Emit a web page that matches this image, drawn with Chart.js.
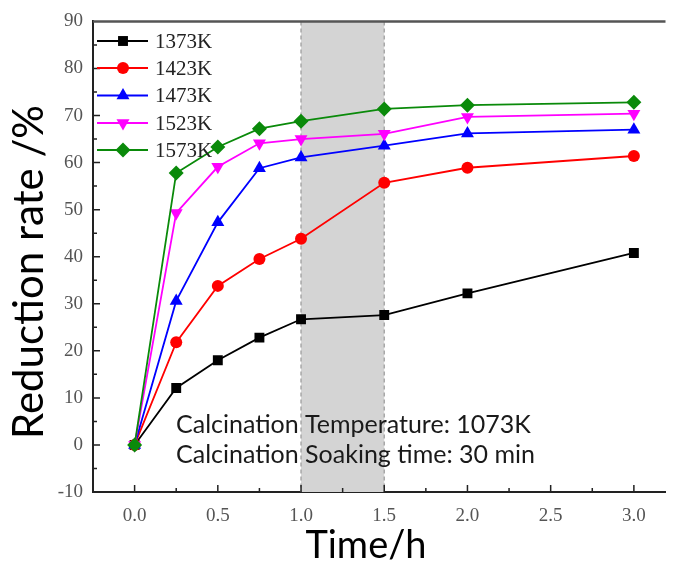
<!DOCTYPE html>
<html>
<head>
<meta charset="utf-8">
<script src="https://cdn.jsdelivr.net/npm/chart.js@4.4.1/dist/chart.umd.min.js"></script>
<style>
  html, body { margin: 0; padding: 0; background: #fff; overflow: hidden; }
  #wrap { width: 673px; height: 562px; position: relative; }
</style>
</head>
<body>
<div id="wrap"><canvas id="grafico"></canvas></div>
<script>
// dados
const tempos = [0, 0.25, 0.5, 0.75, 1.0, 1.5, 2.0, 3.0];
const r1373 = [0, 12.1, 18.0, 22.8, 26.7, 27.6, 32.2, 40.8];
const r1423 = [0, 21.8, 33.8, 39.5, 43.8, 55.7, 58.9, 61.4];
const r1473 = [0, 30.6, 47.3, 58.8, 61.1, 63.6, 66.2, 67.0];
const r1523 = [0, 49.3, 59.1, 64.1, 65.0, 66.1, 69.7, 70.4];
const r1573 = [0, 57.8, 63.3, 67.2, 68.8, 71.4, 72.2, 72.8];

const series = ['1373K', '1423K', '1473K', '1523K', '1573K'];
const xTicks = [0, 0.5, 1.0, 1.5, 2.0, 2.5, 3.0];
const faixaSombra = [1.0, 1.5];
const notas = ['Calcination Temperature: 1073K', 'Calcination Soaking time: 30 min'];
const tituloX = 'Time/h';
const tituloY = 'Reduction rate /%';

const estilos = [
  { cor: '#000000', ponto: 'rect', raio: 7, rot: 0 },
  { cor: '#ff0000', ponto: 'circle', raio: 6, rot: 0 },
  { cor: '#0000ff', ponto: 'triangle', raio: 7.5, rot: 0 },
  { cor: '#ff00ff', ponto: 'triangle', raio: 7.5, rot: 180 },
  { cor: '#0a8a0a', ponto: 'rectRot', raio: 7.5, rot: 0 }
];

const valores = [r1373, r1423, r1473, r1523, r1573];

const datasets = series.map((nome, i) => ({
  label: nome,
  data: tempos.map((t, j) => ({ x: t, y: valores[i][j] })),
  borderColor: estilos[i].cor,
  backgroundColor: estilos[i].cor,
  borderWidth: 1.8,
  pointStyle: estilos[i].ponto,
  pointRadius: estilos[i].raio,
  pointRotation: estilos[i].rot,
  pointBorderWidth: 0,
  tension: 0,
  order: 4 - i
}));

const extras = {
  id: 'extras',
  beforeDatasetsDraw(chart) {
    const { ctx, chartArea: a, scales: { x } } = chart;
    const x1 = x.getPixelForValue(faixaSombra[0]);
    const x2 = x.getPixelForValue(faixaSombra[1]);
    ctx.save();
    ctx.fillStyle = '#d4d4d4';
    ctx.fillRect(x1, a.top, x2 - x1, a.bottom - a.top);
    ctx.strokeStyle = '#a8a8a8';
    ctx.lineWidth = 1.5;
    ctx.setLineDash([4, 3]);
    ctx.beginPath();
    ctx.moveTo(x1, a.top); ctx.lineTo(x1, a.bottom);
    ctx.moveTo(x2, a.top); ctx.lineTo(x2, a.bottom);
    ctx.stroke();
    ctx.restore();
  },
  afterDraw(chart) {
    const { ctx, chartArea: a, scales: { x, y } } = chart;
    ctx.save();

    // borda de cima
    ctx.strokeStyle = '#555';
    ctx.lineWidth = 2.5;
    ctx.beginPath();
    ctx.moveTo(a.left, a.top);
    ctx.lineTo(a.right, a.top);
    ctx.stroke();

    // ticks para dentro
    ctx.strokeStyle = '#222';
    ctx.lineWidth = 1.5;
    ctx.beginPath();
    for (let v = 0.25; v <= 3.0001; v += 0.25) {
      const px = x.getPixelForValue(v);
      const major = Math.abs(v * 2 - Math.round(v * 2)) < 1e-6;
      ctx.moveTo(px, a.bottom);
      ctx.lineTo(px, a.bottom - (major ? 7 : 4));
    }
    ctx.moveTo(x.getPixelForValue(0), a.bottom);
    ctx.lineTo(x.getPixelForValue(0), a.bottom - 7);
    for (let v = -5; v <= 85; v += 5) {
      const py = y.getPixelForValue(v);
      const major = v % 10 === 0;
      ctx.moveTo(a.left, py);
      ctx.lineTo(a.left + (major ? 7 : 4), py);
    }
    ctx.stroke();

    // legenda
    const linhasY = [41, 68, 95.5, 123, 150];
    series.forEach((nome, i) => {
      const yy = linhasY[i];
      ctx.strokeStyle = estilos[i].cor;
      ctx.lineWidth = 1.8;
      ctx.beginPath();
      ctx.moveTo(97, yy);
      ctx.lineTo(148, yy);
      ctx.stroke();
      ctx.fillStyle = estilos[i].cor;
      Chart.helpers.drawPoint(ctx, {
        pointStyle: estilos[i].ponto,
        rotation: estilos[i].rot,
        radius: estilos[i].raio,
        borderWidth: 0
      }, 123, yy);
      ctx.fillStyle = '#222';
      ctx.font = '21px "Liberation Serif"';
      ctx.textBaseline = 'middle';
      ctx.textAlign = 'left';
      ctx.fillText(nome, 155, yy + 1);
    });

    // notas
    ctx.fillStyle = '#1a1a1a';
    ctx.font = '25px Lato';
    ctx.textBaseline = 'alphabetic';
    ctx.textAlign = 'left';
    ctx.fillText(notas[0], 176, 433);
    ctx.fillText(notas[1], 176, 463);

    // titulos dos eixos
    ctx.fillStyle = '#000';
    ctx.font = '38px Lato';
    ctx.textAlign = 'center';
    ctx.fillText(tituloX, 366, 558);

    ctx.font = '42px Lato';
    ctx.translate(43, 272);
    ctx.rotate(-Math.PI / 2);
    ctx.fillText(tituloY, 0, 0);
    ctx.restore();
  }
};

new Chart(document.getElementById('grafico'), {
  type: 'line',
  data: { datasets },
  options: {
    responsive: true,
    maintainAspectRatio: false,
    animation: false,
    layout: { padding: { top: 21, right: 0, left: 0, bottom: 0 } },
    plugins: {
      legend: { display: false },
      tooltip: { enabled: false }
    },
    scales: {
      x: {
        type: 'linear',
        min: -0.25,
        max: 3.19,
        afterBuildTicks: (s) => { s.ticks = xTicks.map(v => ({ value: v })); },
        afterFit: (s) => { s.height = 70; },
        grid: { display: false, drawTicks: false },
        border: { display: true, color: '#222', width: 2 },
        ticks: {
          padding: 13,
          color: '#555',
          font: { family: 'Liberation Serif', size: 19 },
          callback: (v) => Number(v).toFixed(1)
        }
      },
      y: {
        min: -10,
        max: 90,
        afterFit: (s) => { s.width = 93; },
        grid: { display: false, drawTicks: false },
        border: { display: true, color: '#222', width: 2 },
        ticks: {
          stepSize: 10,
          padding: 10,
          color: '#555',
          font: { family: 'Liberation Serif', size: 19 }
        }
      }
    }
  },
  plugins: [extras]
});
</script>
</body>
</html>
